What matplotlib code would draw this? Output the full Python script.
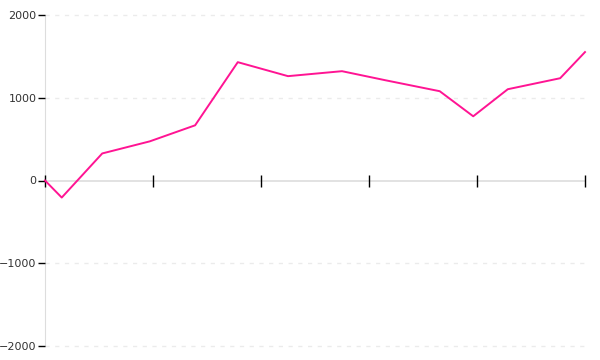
import numpy as np
import matplotlib.pyplot as plt

# data
x_vals = [0, 3.1, 10.6, 19.4, 27.8, 35.7, 45.0, 55.0, 63.0, 73.1, 79.3, 85.7, 95.4, 100]
y_vals = [0, -206, 327, 473, 667, 1430, 1261, 1321, 1212, 1079, 776, 1103, 1236, 1552]
x_ticks = [0, 20, 40, 60, 80, 100]
y_ticks = [-2000, -1000, 0, 1000, 2000]

fig = plt.figure(figsize=(6, 3.6), dpi=100)
ax = fig.add_axes([45 / 600, 14 / 360, 540 / 600, 331 / 360])

ax.plot(x_vals, y_vals, color='#ff1493', linewidth=1.4, clip_on=False, zorder=2)

ax.set_xlim(0, 100)
ax.set_ylim(-2000, 2000)

for s in ['top', 'right']:
    ax.spines[s].set_visible(False)
ax.spines['left'].set_color('#dddddd')
ax.spines['left'].set_zorder(0.5)
ax.spines['bottom'].set_position(('data', 0))
ax.spines['bottom'].set_color('#dddddd')
ax.spines['bottom'].set_linewidth(1.2)
ax.spines['bottom'].set_zorder(0.5)

ax.set_xticks(x_ticks)
ax.set_xticklabels([])
ax.tick_params(axis='x', direction='inout', length=8, width=1, color='black')

ax.set_yticks(y_ticks)
ax.set_yticklabels([str(v).replace('-', '\u2212') for v in y_ticks])
ax.tick_params(axis='y', direction='out', length=5, width=1, color='black',
               labelsize=8, labelcolor='#333333', pad=1)

for v in y_ticks:
    if v != 0:
        ax.axhline(v, color='#ebebeb', linewidth=1, linestyle=(0, (3, 4)), zorder=0, clip_on=False)

plt.savefig('out.png', dpi=100)
